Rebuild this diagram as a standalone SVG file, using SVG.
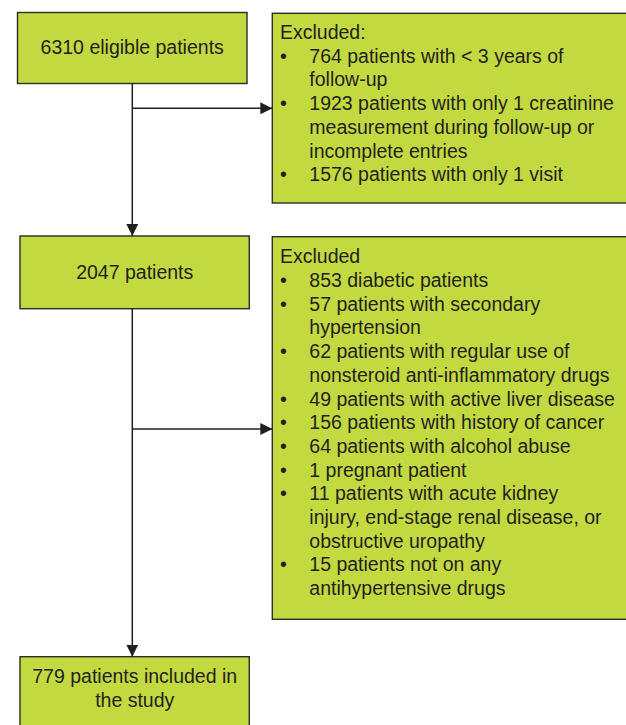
<svg xmlns="http://www.w3.org/2000/svg" width="626" height="725" viewBox="0 0 626 725">
<style>
.box{fill:#c3d940;stroke:#2b2b2b;stroke-width:1.4}
.t{font-family:"Liberation Sans",Arial,sans-serif;font-size:19.5px;fill:#231f20}
.c{text-anchor:middle}
.ln{stroke:#231f20;stroke-width:1.5;fill:none}
</style>
<defs>
<marker id="ah" markerWidth="12" markerHeight="12" refX="12" refY="6" orient="auto" markerUnits="userSpaceOnUse">
<path d="M0,0 L12,6 L0,12 Z" fill="#231f20"/>
</marker>
</defs>
<rect width="626" height="725" fill="#fff"/>
<g id="n1">
<rect class="box" x="17.5" y="12.5" width="229.5" height="71"/>
<text class="t c" x="132.2" y="54.3">6310 eligible patients</text>
</g>
<g id="n2">
<rect class="box" x="272.3" y="13.3" width="360" height="189.7"/>
<text class="t" x="280" y="39">Excluded:</text>
<g class="t">
<text x="280" y="62.7">•</text><text x="309.3" y="62.7">764 patients with &lt; 3 years of</text>
<text x="309.3" y="86.4">follow-up</text>
<text x="280" y="110.1">•</text><text x="309.3" y="110.1">1923 patients with only 1 creatinine</text>
<text x="309.3" y="133.8">measurement during follow-up or</text>
<text x="309.3" y="157.5">incomplete entries</text>
<text x="280" y="181.2">•</text><text x="309.3" y="181.2">1576 patients with only 1 visit</text>
</g>
</g>
<g id="n3">
<rect class="box" x="20" y="236" width="229.3" height="72.7"/>
<text class="t c" x="134.7" y="279.3">2047 patients</text>
</g>
<g id="n4">
<rect class="box" x="272.3" y="236.7" width="360" height="382.6"/>
<g class="t">
<text x="280" y="263.3">Excluded</text>
<text x="280" y="287">•</text><text x="309.3" y="287">853 diabetic patients</text>
<text x="280" y="310.7">•</text><text x="309.3" y="310.7">57 patients with secondary</text>
<text x="309.3" y="334.4">hypertension</text>
<text x="280" y="358.1">•</text><text x="309.3" y="358.1">62 patients with regular use of</text>
<text x="309.3" y="381.8">nonsteroid anti-inflammatory drugs</text>
<text x="280" y="405.5">•</text><text x="309.3" y="405.5">49 patients with active liver disease</text>
<text x="280" y="429.2">•</text><text x="309.3" y="429.2">156 patients with history of cancer</text>
<text x="280" y="452.9">•</text><text x="309.3" y="452.9">64 patients with alcohol abuse</text>
<text x="280" y="476.6">•</text><text x="309.3" y="476.6">1 pregnant patient</text>
<text x="280" y="500.3">•</text><text x="309.3" y="500.3">11 patients with acute kidney</text>
<text x="309.3" y="524">injury, end-stage renal disease, or</text>
<text x="309.3" y="547.7">obstructive uropathy</text>
<text x="280" y="571.4">•</text><text x="309.3" y="571.4">15 patients not on any</text>
<text x="309.3" y="595.1">antihypertensive drugs</text>
</g>
</g>
<g id="n5">
<rect class="box" x="20" y="656.7" width="229.3" height="80"/>
<text class="t c" x="134.7" y="682.7">779 patients included in</text>
<text class="t c" x="134.7" y="706.7">the study</text>
</g>
<g id="connectors">
<line class="ln" x1="132.3" y1="83.7" x2="132.3" y2="236" marker-end="url(#ah)"/>
<line class="ln" x1="132.3" y1="108.3" x2="272.3" y2="108.3" marker-end="url(#ah)"/>
<line class="ln" x1="132.3" y1="308.7" x2="132.3" y2="656.7" marker-end="url(#ah)"/>
<line class="ln" x1="132.3" y1="429" x2="272.3" y2="429" marker-end="url(#ah)"/>
</g>
</svg>
